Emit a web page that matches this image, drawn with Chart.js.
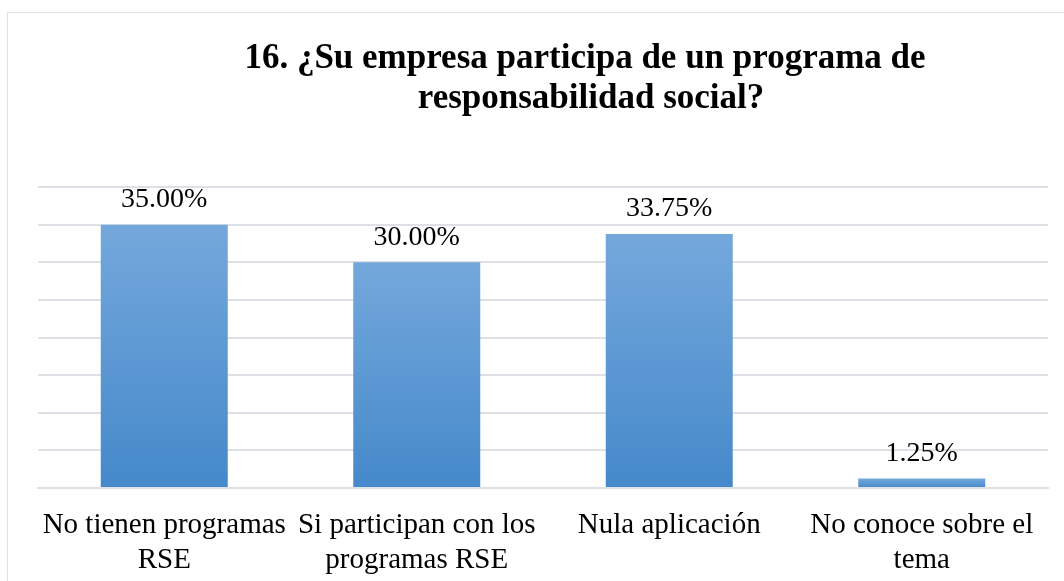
<!DOCTYPE html>
<html>
<head>
<meta charset="utf-8">
<title>Programa de responsabilidad social</title>
<script src="https://cdn.jsdelivr.net/npm/chart.js@4.4.1/dist/chart.umd.min.js"></script>
<style>
  body { margin: 0; background: #fff; }
  #frame { position: absolute; left: 7px; top: 12px; width: 1200px; height: 700px; border: 1px solid #dde1e6; }
  #wrap { position: absolute; left: 0; top: 0; width: 1064px; height: 581px; }
</style>
</head>
<body>
<div id="frame"></div>
<div id="wrap"><canvas id="myChart"></canvas></div>
<script>
"use strict";

const titleLines = ['16. ¿Su empresa participa de un programa de', 'responsabilidad social?'];
const categories = [
    ['No tienen programas', 'RSE'],
    ['Si participan con los', 'programas RSE'],
    ['Nula aplicación'],
    ['No conoce sobre el', 'tema']
];
const values = [35.00, 30.00, 33.75, 1.25];
const yTicks = [0, 5, 10, 15, 20, 25, 30, 35, 40];

const serif = '"Liberation Serif", "Times New Roman", serif';

// gradient per bar, lighter at the top
function barFill(context) {
    const chart = context.chart;
    if (!chart.chartArea || !chart.scales.y) return '#5b9bd5';
    const y = chart.scales.y;
    const top = y.getPixelForValue(context.raw);
    const base = y.getPixelForValue(0);
    if (!isFinite(top) || base - top < 1) return '#5b9bd5';
    const g = chart.ctx.createLinearGradient(0, top, 0, base);
    g.addColorStop(0, '#74a8dc');
    g.addColorStop(1, '#4589ca');
    return g;
}

const titlePlugin = {
    id: 'titleLines',
    afterDraw(chart) {
        const c = chart.ctx;
        c.save();
        c.fillStyle = '#000';
        c.font = 'bold 35px ' + serif;
        c.textAlign = 'center';
        c.textBaseline = 'alphabetic';
        c.fillText(titleLines[0], 585, 68);
        c.fillText(titleLines[1], 591, 108);
        c.restore();
    }
};

const valueLabels = {
    id: 'valueLabels',
    afterDatasetsDraw(chart) {
        const c = chart.ctx;
        const meta = chart.getDatasetMeta(0);
        c.save();
        c.fillStyle = '#000';
        c.font = '28px ' + serif;
        c.textAlign = 'center';
        c.textBaseline = 'middle';
        meta.data.forEach((bar, i) => {
            c.fillText(values[i].toFixed(2) + '%', bar.x, bar.y - 25);
        });
        c.restore();
    }
};

new Chart(document.getElementById('myChart'), {
    type: 'bar',
    data: {
        labels: categories,
        datasets: [{
            data: values,
            backgroundColor: barFill,
            borderWidth: 0,
            categoryPercentage: 1,
            barPercentage: 0.503
        }]
    },
    options: {
        responsive: true,
        maintainAspectRatio: false,
        animation: false,
        layout: { padding: { left: 38, right: 16, top: 187, bottom: 0 } },
        plugins: {
            legend: { display: false },
            tooltip: { enabled: false },
            title: { display: false }
        },
        scales: {
            x: {
                afterFit(axis) { axis.height = 93; },
                grid: { display: false },
                border: { color: '#dde1e6', width: 2 },
                ticks: {
                    color: '#000',
                    font: { family: serif, size: 29 },
                    padding: 12,
                    autoSkip: false,
                    maxRotation: 0,
                    minRotation: 0
                }
            },
            y: {
                min: 0,
                max: 40,
                afterBuildTicks(axis) { axis.ticks = yTicks.map(v => ({ value: v })); },
                afterFit(axis) { axis.width = 0; },
                border: { display: false },
                grid: { color: '#dde1e6', lineWidth: 2, drawTicks: false },
                ticks: { display: false }
            }
        }
    },
    plugins: [titlePlugin, valueLabels]
});
</script>
</body>
</html>
